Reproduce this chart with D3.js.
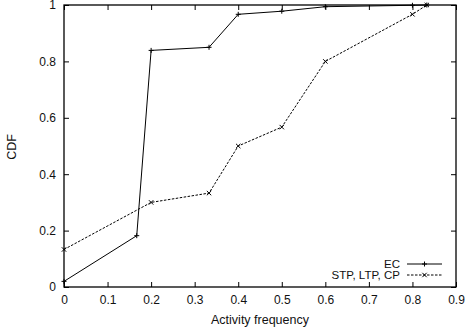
<!DOCTYPE html>
<html>
<head>
<meta charset="utf-8">
<script src="https://cdn.jsdelivr.net/npm/d3@7"></script>
<style>
  body { margin: 0; background: #fff; }
  text { font-family: "Liberation Sans", Arial, sans-serif; font-size: 12px; fill: #111; }
</style>
</head>
<body>
<svg width="466" height="333"></svg>
<script>
// data
var ecX = [0, 0.167, 0.2, 0.333, 0.4, 0.5, 0.6, 0.8, 0.833];
var ecY = [0.02, 0.182, 0.839, 0.85, 0.967, 0.978, 0.994, 0.999, 1.0];
var stpX = [0, 0.2, 0.333, 0.4, 0.5, 0.6, 0.8, 0.833];
var stpY = [0.133, 0.3, 0.333, 0.5, 0.567, 0.8, 0.967, 1.0];
var xTicks = [0, 0.1, 0.2, 0.3, 0.4, 0.5, 0.6, 0.7, 0.8, 0.9];
var yTicks = [0, 0.2, 0.4, 0.6, 0.8, 1];
var seriesNames = ['EC', 'STP, LTP, CP'];

var svg = d3.select('svg');
var padding = {t: 5, r: 10, b: 46, l: 64};
var plotW = 466 - padding.l - padding.r;
var plotH = 333 - padding.t - padding.b;

var x = d3.scaleLinear().domain([0, 0.9]).range([0, plotW]);
var y = d3.scaleLinear().domain([0, 1]).range([plotH, 0]);

var g = svg.append('g')
    .attr('transform', 'translate(' + [padding.l, padding.t] + ')');

// axes with inward ticks, mirrored on top and right
function styleAxis(sel) {
    sel.select('.domain').remove();
    sel.selectAll('line').attr('stroke', '#000');
}
g.append('g')
    .attr('transform', 'translate(0,' + plotH + ')')
    .call(d3.axisBottom(x).tickValues(xTicks).tickFormat(d3.format('')).tickSizeInner(-5).tickSizeOuter(0).tickPadding(8.5))
    .call(styleAxis);
g.append('g')
    .call(d3.axisTop(x).tickValues(xTicks).tickFormat('').tickSizeInner(-5).tickSizeOuter(0))
    .call(styleAxis);
g.append('g')
    .call(d3.axisLeft(y).tickValues(yTicks).tickFormat(d3.format('')).tickSizeInner(-5).tickSizeOuter(0).tickPadding(8))
    .call(styleAxis);
g.append('g')
    .attr('transform', 'translate(' + plotW + ',0)')
    .call(d3.axisRight(y).tickValues(yTicks).tickFormat('').tickSizeInner(-5).tickSizeOuter(0))
    .call(styleAxis);
g.selectAll('.tick text').style('font-family', '"Liberation Sans", Arial, sans-serif').style('font-size', '12px').style('fill', '#111');

g.append('rect')
    .attr('width', plotW).attr('height', plotH)
    .attr('fill', 'none').attr('stroke', '#000').attr('stroke-width', 1.3);

var line = d3.line().x(function(d) { return x(d[0]); }).y(function(d) { return y(d[1]); });
var ecData = ecX.map(function(v, i) { return [v, ecY[i]]; });
var stpData = stpX.map(function(v, i) { return [v, stpY[i]]; });

g.append('path').datum(ecData).attr('d', line)
    .attr('fill', 'none').attr('stroke', '#000').attr('stroke-width', 1);
g.append('path').datum(stpData).attr('d', line)
    .attr('fill', 'none').attr('stroke', '#000').attr('stroke-width', 1).attr('stroke-dasharray', '2.5,1.5');

function plus(sel, px, py) {
    sel.append('path').attr('d', 'M' + (px - 2.5) + ',' + py + 'h5M' + px + ',' + (py - 2.5) + 'v5')
        .attr('stroke', '#000').attr('stroke-width', 1);
}
function cross(sel, px, py) {
    sel.append('path').attr('d', 'M' + (px - 2.2) + ',' + (py - 2.2) + 'l4.4,4.4M' + (px - 2.2) + ',' + (py + 2.2) + 'l4.4,-4.4')
        .attr('stroke', '#000').attr('stroke-width', 1);
}
ecData.forEach(function(d) { plus(g, x(d[0]), y(d[1])); });
stpData.forEach(function(d) { cross(g, x(d[0]), y(d[1])); });

// legend
var legX0 = 343, legX1 = 378;
[264 - padding.t, 275 - padding.t].forEach(function(ly, i) {
    g.append('text').attr('x', legX0 - 7).attr('y', ly + 4)
        .attr('text-anchor', 'end').style('font-size', '11.5px').text(seriesNames[i]);
    var p = g.append('path').attr('d', 'M' + legX0 + ',' + ly + 'H' + legX1)
        .attr('stroke', '#000').attr('fill', 'none');
    if (i === 0) { plus(g, (legX0 + legX1) / 2, ly); }
    else { p.attr('stroke-dasharray', '2.5,1.5'); cross(g, (legX0 + legX1) / 2, ly); }
});

// axis labels
svg.append('text').attr('x', 260).attr('y', 323.5)
    .attr('text-anchor', 'middle').style('font-size', '12.5px').text('Activity frequency');
svg.append('text').attr('transform', 'translate(16,' + (padding.t + plotH / 2 + 1) + ') rotate(-90)')
    .attr('text-anchor', 'middle').style('font-size', '12.5px').text('CDF');
</script>
</body>
</html>
